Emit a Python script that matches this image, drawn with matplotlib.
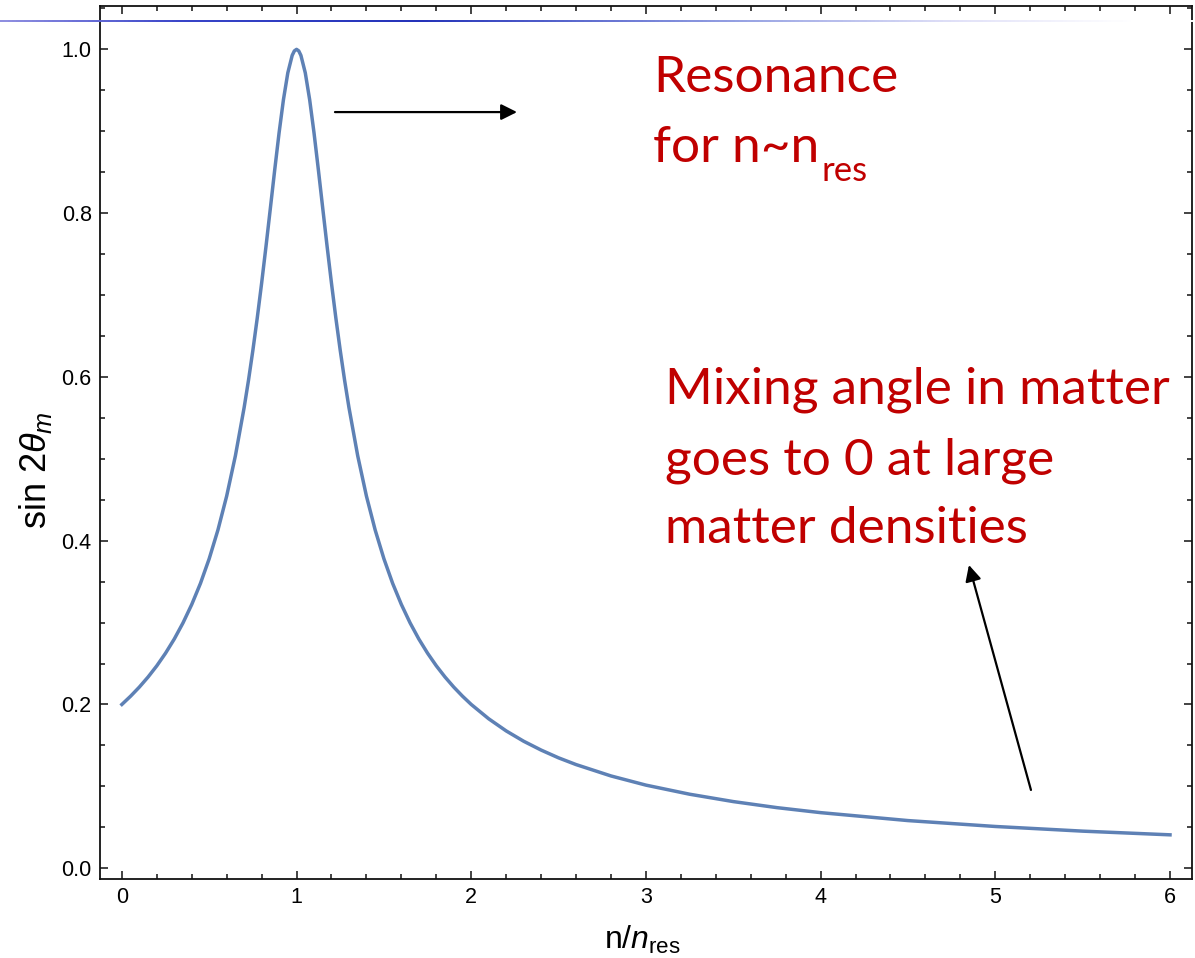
import matplotlib
matplotlib.use("Agg")
import matplotlib.pyplot as plt
from matplotlib.collections import LineCollection
from matplotlib.colors import LinearSegmentedColormap
from matplotlib.ticker import MultipleLocator
import numpy as np

# sin 2theta_m vs n/n_res (vacuum sin 2theta = 0.2)
n_ratio = [0.0, 0.05, 0.1, 0.15, 0.2, 0.25, 0.3, 0.35, 0.4, 0.45, 0.5,
           0.55, 0.6, 0.65, 0.7, 0.725, 0.75, 0.775, 0.8, 0.825, 0.85,
           0.875, 0.9, 0.925, 0.95, 0.975, 0.9875, 1.0, 1.0125, 1.025,
           1.05, 1.075, 1.1, 1.125, 1.15, 1.175, 1.2, 1.225, 1.25, 1.275,
           1.3, 1.35, 1.4, 1.45, 1.5, 1.55, 1.6, 1.65, 1.7, 1.75, 1.8,
           1.85, 1.9, 1.95, 2.0, 2.1, 2.2, 2.3, 2.4, 2.5, 2.6, 2.8, 3.0,
           3.25, 3.5, 3.75, 4.0, 4.5, 5.0, 5.5, 6.0]
sin2theta_m = [0.2000, 0.2101, 0.2212, 0.2335, 0.2472, 0.2626, 0.2799,
               0.2996, 0.3221, 0.3479, 0.3780, 0.4131, 0.4545, 0.5038,
               0.5626, 0.5960, 0.6325, 0.6719, 0.7143, 0.7592, 0.8058,
               0.8528, 0.8980, 0.9386, 0.9713, 0.9926, 0.9981, 1.0000,
               0.9981, 0.9926, 0.9713, 0.9386, 0.8980, 0.8528, 0.8058,
               0.7592, 0.7143, 0.6719, 0.6325, 0.5960, 0.5626, 0.5038,
               0.4545, 0.4131, 0.3780, 0.3479, 0.3221, 0.2996, 0.2799,
               0.2626, 0.2472, 0.2335, 0.2212, 0.2101, 0.2000, 0.1825,
               0.1677, 0.1551, 0.1443, 0.1348, 0.1266, 0.1127, 0.1015,
               0.0904, 0.0814, 0.0740, 0.0679, 0.0582, 0.0510, 0.0453,
               0.0408]

xticks = [0, 1, 2, 3, 4, 5, 6]
yticks = [0.0, 0.2, 0.4, 0.6, 0.8, 1.0]

plt.rcParams['mathtext.fontset'] = 'custom'
plt.rcParams['mathtext.rm'] = 'Liberation Sans'
plt.rcParams['mathtext.it'] = 'Liberation Sans:italic'
plt.rcParams['font.family'] = ['Liberation Sans', 'DejaVu Sans']

fig = plt.figure(figsize=(11.95, 9.58), dpi=100)
ax = fig.add_axes([0.0837, 0.0825, 0.9138, 0.9112])

ax.plot(n_ratio, sin2theta_m, color='#5E81B5', lw=2.5,
        solid_joinstyle='round')

ax.set_xlim(-0.125, 6.126)
ax.set_ylim(-0.0131, 1.0529)
ax.set_xticks(xticks)
ax.set_xticklabels([str(t) for t in xticks])
ax.set_yticks(yticks)
ax.set_yticklabels(['%.1f' % t for t in yticks])
ax.xaxis.set_minor_locator(MultipleLocator(0.2))
ax.yaxis.set_minor_locator(MultipleLocator(0.05))
ax.tick_params(which='both', direction='in', top=True, right=True,
               color='#111111', width=1.1, labelsize=15.5, pad=6)
ax.tick_params(which='major', length=6)
ax.tick_params(which='minor', length=3.5)
for sp in ax.spines.values():
    sp.set_linewidth(1.3)
    sp.set_color('#111111')

ax.set_xlabel(r'n/$n_{\mathregular{res}}$', fontsize=23)
ax.set_ylabel(r'sin 2$\theta_m$', fontsize=26)
ax.xaxis.set_label_coords(0.497, -0.052)
ax.yaxis.set_label_coords(-0.042, 0.468)

# annotation text
red = '#C00000'
tfont = dict(family=['Lato', 'DejaVu Sans'], color=red, fontsize=37)
fig.text(0.5464, 0.9040, 'Resonance', va='baseline', **tfont)
t2 = fig.text(0.5464, 0.8309, 'for n~n', va='baseline', **tfont)
ax.annotate('res', xy=(1, 0), xycoords=t2, xytext=(1.5, -7),
            textcoords='offset points', va='baseline',
            family=['Lato', 'DejaVu Sans'], color=red, fontsize=25)
fig.text(0.5565, 0.5793, 'Mixing angle in matter', va='baseline', **tfont)
fig.text(0.5565, 0.5042, 'goes to 0 at large', va='baseline', **tfont)
fig.text(0.5565, 0.4332, 'matter densities', va='baseline', **tfont)

arrow = dict(arrowstyle='-|>', color='black', lw=1.6, mutation_scale=24,
             shrinkA=0, shrinkB=0)
ax.annotate('', xy=(2.262, 0.9234), xytext=(1.220, 0.9234), arrowprops=arrow)
ax.annotate('', xy=(4.849, 0.3703), xytext=(5.204, 0.0956), arrowprops=arrow)

# fading blue rule across the top
cmap = LinearSegmentedColormap.from_list('rule', [
    (0.0, (0.55, 0.55, 0.88)), (0.15, (0.2, 0.25, 0.78)),
    (0.35, (0.12, 0.18, 0.72)), (0.6, (0.55, 0.6, 0.88)),
    (0.8, (0.88, 0.88, 0.97)), (0.95, (1, 1, 1)), (1.0, (1, 1, 1))])
xs = np.linspace(0, 1, 300)
yr = 1 - 20.5 / 958
segs = [[(xs[i], yr), (xs[i + 1], yr)] for i in range(len(xs) - 1)]
lc = LineCollection(segs, transform=fig.transFigure, linewidths=1.4,
                    colors=cmap(xs[:-1]), zorder=5)
fig.add_artist(lc)

fig.savefig('out.png', dpi=100)
